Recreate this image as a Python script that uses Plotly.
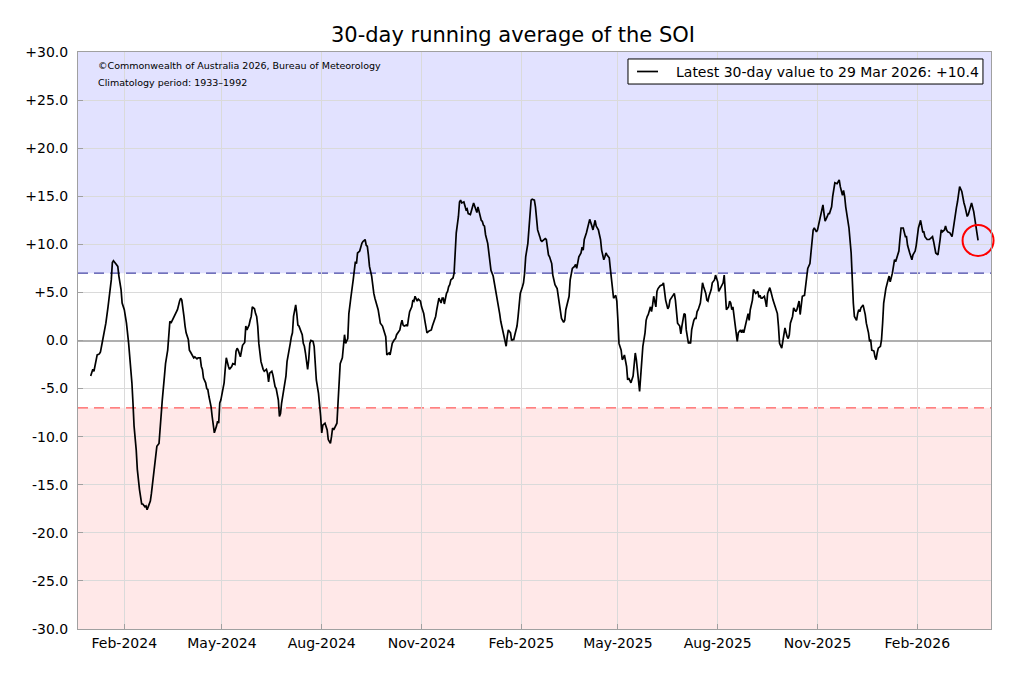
import pandas as pd
import plotly.graph_objects as go

# ---------------- data ----------------
start_date = "2024-01-01"  # day 0 of the record

days_a = [0, 2, 3, 5, 6, 8, 9, 10, 12, 13,
          14, 16, 18, 19, 20, 21, 23, 25, 26, 28,
          29, 31, 32, 33, 35, 37, 38, 39, 40, 42,
          43, 45, 47, 48, 50, 51, 52, 53, 55, 56,
          58, 60, 61, 63, 64, 65, 66, 68, 69, 71,
          72, 73, 74, 76, 77, 79, 80, 82, 83, 84,
          85, 86, 87, 88, 90, 91, 92, 93, 95, 96,
          98, 99, 101, 102, 103, 104, 106, 107, 108, 109,
          111, 112, 113, 114, 116, 117, 118, 119, 120, 122,
          123, 124, 125, 127, 128]
soi_a = [-3.7, -3.0, -3.2, -2.1, -1.5, -1.4, -1.2, -0.6, 0.6, 0.8,
         1.8, 3.5, 5.3, 6.3, 8.1, 8.3, 8.0, 7.7, 6.7, 5.3,
         3.9, 3.2, 2.5, 1.8, -0.3, -2.7, -4.4, -6.5, -8.9, -11.4,
         -13.4, -15.5, -17.0, -17.0, -17.3, -17.2, -17.6, -17.3, -16.7, -15.9,
         -14.1, -12.4, -11.0, -10.7, -8.9, -8.3, -6.2, -3.7, -2.4, -1.0,
         1.1, 2.0, 1.8, 2.3, 2.5, 2.9, 3.2, 4.1, 4.4, 4.2,
         3.5, 2.5, 1.5, 0.8, 0.1, -1.0, -1.2, -1.4, -1.8, -1.7,
         -1.9, -1.8, -1.8, -2.7, -3.0, -3.9, -4.4, -5.0, -5.1, -5.8,
         -6.9, -7.9, -8.9, -9.6, -8.9, -8.4, -8.6, -6.5, -6.2, -5.1,
         -4.4, -3.0, -1.8, -2.7, -3.0]

days_b = [130, 131, 133, 134, 135, 136, 138, 139, 140, 142,
          143, 144, 146, 147, 148, 149, 151, 152, 153, 154,
          155, 157, 158, 159, 160, 162, 163, 164, 165, 167,
          168, 169, 170, 171, 173, 174, 175, 176, 178, 179,
          180, 181, 183, 184, 185, 186, 187, 189, 190, 191,
          192, 194, 195, 196, 197, 198, 200, 201, 202, 203,
          205, 206, 207, 208, 210, 211, 212, 213, 214, 216,
          217, 218, 219, 221, 222, 223, 224, 226, 227, 228,
          229, 230, 232, 233, 234, 235, 237, 238, 239, 240,
          242, 243, 244, 245, 246, 248, 249, 250, 251, 253,
          254, 255, 256, 257, 259, 260, 261, 262, 264, 265,
          266]
soi_b = [-2.7, -2.4, -2.5, -1.1, -0.8, -1.0, -1.7, -0.8, -0.5, -0.2,
         1.5, 1.1, 1.6, 2.1, 2.5, 3.5, 3.3, 2.8, 2.5, 1.5,
         -0.3, -2.2, -2.7, -3.0, -3.2, -3.0, -3.4, -4.3, -3.4, -3.2,
         -3.6, -4.4, -4.8, -5.0, -6.2, -7.9, -7.6, -6.5, -5.1, -4.8,
         -3.7, -2.2, -0.6, -0.3, 0.4, 0.8, 2.5, 3.7, 2.8, 1.6,
         1.5, 0.8, 0.6, -0.3, -0.6, -1.3, -3.0, -2.0, -0.3, 0.0,
         -0.1, -0.6, -2.4, -4.1, -5.5, -6.5, -7.9, -9.6, -8.8, -8.6,
         -8.9, -9.3, -10.3, -10.7, -10.0, -9.1, -9.3, -8.9, -8.6, -6.5,
         -3.4, -2.4, -1.8, -0.5, 0.6, -0.3, 0.2, 2.8, 3.9, 4.6,
         6.3, 7.7, 8.2, 8.0, 9.1, 9.3, 9.8, 10.1, 10.3, 10.5,
         9.9, 9.8, 8.9, 7.7, 6.7, 5.6, 4.9, 4.4, 3.7, 3.2,
         2.5]

days_c = [267, 269, 270, 272, 273, 275, 276, 277, 278, 280,
          281, 282, 283, 285, 286, 287, 288, 289, 291, 292,
          293, 294, 296, 297, 298, 299, 301, 302, 303, 304,
          305, 307, 308, 309, 310, 312, 313, 314, 315, 316,
          318, 319, 320, 321, 323, 324, 325, 326, 328, 329,
          330, 331, 332, 334, 335, 336, 337, 339, 340, 341,
          342, 344, 345, 346, 347, 348, 350, 351, 352, 353,
          355, 356, 357, 358, 360, 361, 362, 363, 364, 366,
          367, 368, 369, 371, 372, 373, 374, 375, 377, 378,
          379, 380, 382, 383, 384, 385, 387, 388, 389, 390,
          391, 393, 394, 395, 396, 398, 399, 400, 401, 403,
          404]
soi_c = [1.8, 1.5, 1.2, 0.4, -1.5, -1.3, -1.5, -1.0, -0.3, 0.1,
         0.2, 0.6, 0.8, 1.1, 1.7, 2.1, 1.6, 1.5, 1.6, 1.5,
         2.3, 3.0, 3.5, 4.2, 4.1, 4.6, 4.1, 4.3, 4.2, 4.1,
         3.5, 2.8, 2.1, 1.5, 0.8, 1.0, 1.1, 1.1, 1.5, 1.8,
         2.5, 3.2, 3.9, 4.4, 3.9, 4.4, 4.4, 3.8, 4.9, 5.1,
         5.6, 5.8, 6.3, 6.5, 7.0, 9.1, 11.2, 12.9, 14.4, 14.6,
         14.3, 14.4, 13.9, 13.6, 13.7, 13.2, 13.1, 13.4, 13.9, 14.3,
         13.6, 13.3, 13.9, 13.4, 12.5, 12.4, 12.0, 11.9, 11.0, 10.1,
         9.1, 8.0, 7.3, 6.7, 6.1, 5.4, 4.9, 3.9, 2.8, 2.0,
         1.5, 0.8, 0.1, -0.6, 0.4, 1.1, 0.8, 0.0, 0.1, 0.1,
         0.6, 1.5, 2.5, 3.7, 4.9, 5.6, 6.0, 7.0, 8.7, 10.1,
         11.9]

days_d = [405, 406, 407, 409, 410, 411, 412, 414, 415, 416,
          417, 419, 420, 421, 422, 423, 425, 426, 427, 428,
          430, 431, 432, 433, 434, 436, 437, 438, 439, 441,
          442, 443, 444, 446, 447, 448, 449, 450, 452, 453,
          454, 455, 457, 458, 459, 460, 462, 463, 464, 465,
          466, 468, 469, 470, 471, 473, 474, 475, 476, 478,
          479, 480, 481, 482, 484, 485, 486, 487, 489, 490,
          491, 492, 494, 495, 496, 497, 498, 500, 501, 502,
          503, 505, 506, 507, 508, 509, 511, 512, 513, 514,
          516, 517, 518, 519, 521, 522, 523, 524, 525, 527,
          528, 529, 530, 532, 533, 534, 535, 537, 538, 539,
          540, 541, 543, 544]
soi_d = [13.6, 14.6, 14.7, 14.6, 13.9, 12.5, 11.5, 10.8, 10.4, 10.3,
         10.4, 10.6, 10.5, 9.8, 8.9, 8.7, 8.0, 6.8, 6.3, 5.8,
         5.4, 4.7, 4.1, 3.2, 2.3, 1.9, 2.1, 3.2, 3.7, 4.6,
         6.3, 7.2, 7.5, 7.7, 7.9, 7.5, 8.0, 8.7, 9.1, 9.7,
         9.4, 10.5, 11.2, 11.7, 11.9, 12.6, 11.9, 11.5, 12.0, 12.5,
         11.9, 11.5, 11.0, 10.5, 9.4, 8.4, 8.7, 9.1, 8.9, 8.6,
         7.5, 6.5, 5.3, 4.4, 4.7, 4.1, 2.1, -0.3, -1.0, -2.0,
         -1.8, -1.5, -2.7, -4.1, -3.9, -4.2, -4.4, -3.7, -2.4, -1.3,
         -2.0, -4.1, -5.3, -3.7, -2.0, -0.6, 0.8, 2.1, 2.5, 2.7,
         3.5, 3.0, 3.7, 4.6, 3.5, 5.1, 5.4, 5.6, 5.7, 5.8,
         6.0, 5.1, 4.2, 3.3, 3.5, 4.2, 4.4, 4.7, 4.9, 4.2,
         2.8, 1.8, 1.5, 0.7]

days_e = [545, 546, 547, 548, 549, 551, 552, 553, 554, 556,
          557, 558, 559, 560, 562, 563, 564, 565, 567, 568,
          569, 570, 572, 573, 574, 575, 576, 578, 579, 580,
          581, 583, 584, 585, 586, 588, 589, 590, 591, 592,
          594, 595, 596, 597, 599, 600, 601, 602, 604, 605,
          606, 607, 608, 610, 611, 612, 613, 615, 616, 617,
          618, 619, 621, 622, 623, 624, 626, 627, 628, 629,
          631, 632, 633, 634, 635, 637, 638, 639, 640, 642,
          643, 644, 645, 647, 648, 649, 650, 651, 653, 654,
          655, 656, 658, 659, 660, 661, 663, 664, 665, 666,
          667, 669, 670, 671, 672, 674, 675, 676, 677, 679,
          680, 681]
soi_e = [1.5, 2.5, 2.8, 2.7, 1.1, -0.3, -0.2, -0.3, 1.1, 2.1,
         2.3, 2.3, 3.0, 3.2, 3.9, 4.9, 6.0, 5.6, 4.9, 4.2,
         4.1, 4.6, 5.3, 6.0, 6.1, 6.3, 6.8, 6.1, 5.1, 5.3,
         5.6, 6.0, 6.8, 5.3, 3.2, 3.5, 4.1, 3.9, 3.2, 3.5,
         1.5, 0.6, -0.1, 0.8, 1.1, 0.8, 1.1, 0.8, 1.8, 2.5,
         2.8, 2.1, 3.2, 4.2, 5.3, 5.1, 4.9, 5.1, 4.5, 4.7,
         4.4, 4.4, 4.6, 4.1, 3.5, 4.9, 5.5, 5.1, 4.6, 4.2,
         3.5, 3.0, 2.8, 1.5, -0.3, -0.8, 0.1, 0.8, 1.3, 0.4,
         0.2, 0.6, 1.8, 2.5, 3.4, 3.2, 3.0, 3.2, 4.1, 2.7,
         3.5, 4.6, 4.7, 5.6, 6.7, 7.5, 8.0, 9.4, 10.5, 11.5,
         11.7, 11.3, 11.5, 12.0, 12.5, 13.6, 14.1, 13.2, 12.4, 12.9,
         13.2, 13.2]

days_f = [683, 684, 685, 686, 688, 689, 690, 691, 693, 694,
          695, 696, 697, 698, 699, 701, 702, 703, 704, 706,
          707, 708, 709, 710, 712, 713, 714, 715, 717, 718,
          719, 720, 722, 723, 724, 725, 726, 728, 729, 730,
          731, 733, 734, 735, 736, 737, 739, 740, 741, 742,
          744, 745, 746, 747, 749, 750, 751, 752, 753, 755,
          756, 757, 758, 760, 761, 762, 763, 765, 766, 767,
          768, 769, 771, 772, 773, 774, 776, 777, 778, 779,
          781, 782, 783, 784, 785, 787, 788, 789, 790, 792,
          793, 794, 795, 796, 798, 799, 800, 801, 803, 804,
          805, 806, 808, 809, 810, 811, 812, 814, 815, 816,
          817, 818]
soi_f = [13.9, 15.0, 15.8, 16.4, 16.3, 16.5, 16.7, 16.0, 15.1, 15.6,
         15.0, 13.9, 13.2, 12.5, 11.7, 9.1, 6.0, 3.9, 2.5, 2.1,
         2.8, 3.2, 3.0, 3.4, 3.7, 3.2, 2.7, 1.8, 0.8, -0.1,
         0.1, -1.0, -1.1, -1.7, -2.0, -1.3, -0.8, -0.6, 0.1, 1.8,
         3.9, 5.4, 6.0, 6.3, 6.7, 6.1, 7.0, 8.0, 8.4, 8.2,
         9.1, 9.3, 10.6, 11.7, 11.7, 11.2, 10.8, 10.8, 9.9, 9.1,
         8.6, 8.4, 8.9, 9.3, 9.9, 10.6, 11.7, 12.5, 12.0, 11.3,
         11.3, 10.8, 10.5, 10.5, 10.5, 10.6, 10.8, 10.3, 9.8, 9.1,
         8.9, 9.6, 10.5, 11.5, 11.3, 11.5, 11.9, 11.5, 11.3, 11.2,
         11.0, 10.8, 11.5, 12.5, 13.8, 14.4, 15.3, 16.0, 15.5, 14.6,
         14.3, 13.9, 12.9, 13.1, 13.6, 13.9, 14.3, 13.4, 12.7, 12.2,
         11.2, 10.4]

x_tick_dates = ["2024-02-01", "2024-05-01", "2024-08-01", "2024-11-01",
                "2025-02-01", "2025-05-01", "2025-08-01", "2025-11-01",
                "2026-02-01"]
x_tick_labels = ["Feb-2024", "May-2024", "Aug-2024", "Nov-2024",
                 "Feb-2025", "May-2025", "Aug-2025", "Nov-2025",
                 "Feb-2026"]
y_tick_values = [-30, -25, -20, -15, -10, -5, 0, 5, 10, 15, 20, 25, 30]
y_tick_labels = ["-30.0", "-25.0", "-20.0", "-15.0", "-10.0", "-5.0", "0.0",
                 "+5.0", "+10.0", "+15.0", "+20.0", "+25.0", "+30.0"]

la_nina_threshold = 7
el_nino_threshold = -7
y_min, y_max = -30, 30
x_range = ["2023-12-20 07:40", "2026-04-09 22:00"]

# ---------------- build ----------------
day_offset = days_a + days_b + days_c + days_d + days_e + days_f
soi_30day = soi_a + soi_b + soi_c + soi_d + soi_e + soi_f
n = min(len(day_offset), len(soi_30day))
day_offset, soi_30day = day_offset[:n], soi_30day[:n]

dates = pd.Timestamp(start_date) + pd.to_timedelta(day_offset, unit="D")
last_date, last_val = dates[-1], soi_30day[-1]
legend_label = (f"Latest 30-day value to {last_date.day} "
                f"{last_date.strftime('%b %Y')}: {last_val:+.1f}")

FONT = "DejaVu Sans"

# The page body has an 8px margin, so the figure is sized to fit inside it.
W, H = 999, 661

fig = go.Figure()
fig.add_trace(go.Scatter(
    x=dates, y=soi_30day, mode="lines",
    line=dict(color="black", width=1.7),
    name=legend_label, showlegend=False, hoverinfo="skip",
))
fig.add_trace(go.Scatter(
    x=[last_date], y=[last_val], mode="markers",
    marker=dict(symbol="circle-open", size=31, color="red",
                line=dict(width=2, color="red")),
    showlegend=False, cliponaxis=False, hoverinfo="skip",
))

shapes = [
    dict(type="rect", xref="paper", yref="y", x0=0, x1=1,
         y0=la_nina_threshold, y1=y_max, fillcolor="rgb(226,226,255)",
         line=dict(width=0), layer="below"),
    dict(type="rect", xref="paper", yref="y", x0=0, x1=1,
         y0=y_min, y1=el_nino_threshold, fillcolor="rgb(255,232,232)",
         line=dict(width=0), layer="below"),
    dict(type="line", xref="paper", yref="y", x0=0, x1=1,
         y0=la_nina_threshold, y1=la_nina_threshold,
         line=dict(color="rgb(70,70,165)", width=1.3, dash="10px,6px"), layer="below"),
    dict(type="line", xref="paper", yref="y", x0=0, x1=1,
         y0=el_nino_threshold, y1=el_nino_threshold,
         line=dict(color="rgb(255,90,90)", width=1.3, dash="10px,6px"), layer="below"),
    # legend box (drawn by hand for exact placement)
    dict(type="rect", xref="paper", yref="paper", x0=0.6024, x1=0.9912,
         y0=0.9445, y1=0.9879, fillcolor="white",
         line=dict(color="black", width=1), layer="above"),
    dict(type="line", xref="paper", yref="paper", x0=0.6123, x1=0.6353,
         y0=0.9662, y1=0.9662, line=dict(color="black", width=1.7), layer="above"),
]

fig.update_layout(
    width=W, height=H,
    margin=dict(l=70, r=16, t=44, b=40),
    paper_bgcolor="white", plot_bgcolor="white",
    font=dict(family=FONT, size=14, color="black"),
    title=dict(text="30-day running average of the SOI", xref="container",
               x=505 / W, xanchor="center", yref="container", y=1 - 27 / H,
               yanchor="middle", font=dict(family=FONT, size=21, color="black")),
    shapes=shapes,
    showlegend=False,
    annotations=[
        dict(text="©Commonwealth of Australia 2026, Bureau of Meteorology",
             xref="paper", yref="paper", x=0.0195, y=(629 - 65.7) / 577,
             xanchor="left", yanchor="middle", showarrow=False,
             font=dict(family=FONT, size=9.5, color="black")),
        dict(text="Climatology period: 1933–1992",
             xref="paper", yref="paper", x=0.0195, y=(629 - 82.3) / 577,
             xanchor="left", yanchor="middle", showarrow=False,
             font=dict(family=FONT, size=9.5, color="black")),
        dict(text=legend_label,
             xref="paper", yref="paper", x=0.6528, y=0.9662,
             xanchor="left", yanchor="middle", showarrow=False,
             font=dict(family=FONT, size=14, color="black")),
    ],
)

fig.update_xaxes(
    type="date", range=x_range,
    tickvals=x_tick_dates, ticktext=x_tick_labels,
    showgrid=True, gridcolor="rgb(218,218,218)", gridwidth=1,
    showline=True, linecolor="rgb(160,160,160)", linewidth=1, mirror=True,
    ticks="inside", ticklen=5, tickcolor="rgb(160,160,160)",
    tickfont=dict(family=FONT, size=14, color="black"),
    ticklabelstandoff=1, zeroline=False,
)
fig.update_yaxes(
    range=[y_min, y_max],
    tickvals=y_tick_values, ticktext=y_tick_labels,
    showgrid=True, gridcolor="rgb(218,218,218)", gridwidth=1,
    zeroline=True, zerolinecolor="rgb(175,175,175)", zerolinewidth=1.5,
    showline=True, linecolor="rgb(160,160,160)", linewidth=1, mirror=True,
    ticks="inside", ticklen=5, tickcolor="rgb(160,160,160)",
    tickfont=dict(family=FONT, size=14, color="black"),
    ticklabelstandoff=6,
)

fig.write_html("out.html")
